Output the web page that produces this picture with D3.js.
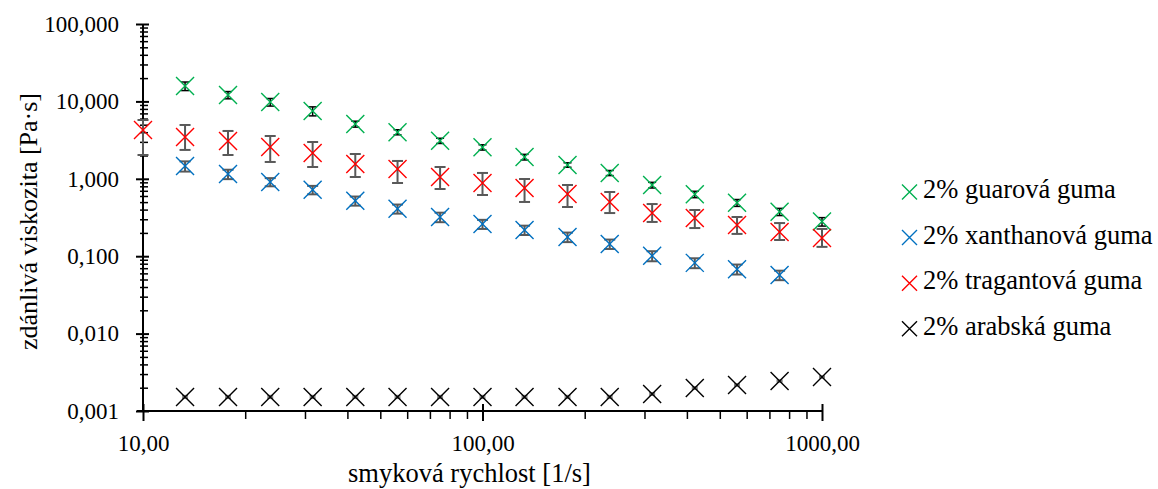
<!DOCTYPE html>
<html>
<head>
<meta charset="utf-8">
<script src="https://cdn.jsdelivr.net/npm/d3@7"></script>
<style>
  html, body { margin: 0; padding: 0; background: #fff; }
  svg { display: block; font-family: "Liberation Serif", "Times New Roman", serif; }
</style>
</head>
<body>
<svg id="chart" width="1158" height="489"></svg>
<script>
// shear rate [1/s]
const shear = [10, 13.3, 17.8, 23.7, 31.6, 42.2, 56.2, 75.0, 100, 133, 178, 237, 316, 422, 562, 750, 1000];

// apparent viscosity [Pa.s]
const guar     = [null, 15.8, 12.1, 9.8, 7.5, 5.1, 4.0, 3.1, 2.55, 1.91, 1.51, 1.19, 0.83, 0.63, 0.49, 0.375, 0.28];
const guarErr  = [null, 2.0, 1.3, 1.1, 1.0, 0.45, 0.3, 0.24, 0.2, 0.16, 0.1, 0.09, 0.07, 0.06, 0.05, 0.04, 0.035];

const xanthan    = [null, 1.46, 1.15, 0.91, 0.72, 0.52, 0.41, 0.32, 0.26, 0.218, 0.177, 0.144, 0.101, 0.082, 0.068, 0.057, null];
const xanthanErr = [null, 0.22, 0.16, 0.11, 0.09, 0.07, 0.055, 0.045, 0.035, 0.03, 0.025, 0.02, 0.015, 0.012, 0.01, 0.008, null];

const trag      = [4.27, 3.47, 3.08, 2.58, 2.15, 1.55, 1.34, 1.055, 0.882, 0.761, 0.636, 0.502, 0.361, 0.312, 0.253, 0.205, 0.172];
const tragPlus  = [1.48, 1.49, 1.07, 0.99, 0.84, 0.54, 0.36, 0.365, 0.308, 0.233, 0.196, 0.173, 0.111, 0.083, 0.068, 0.063, 0.053];
const tragMinus = [2.24, 1.11, 1.05, 0.93, 0.73, 0.495, 0.458, 0.317, 0.264, 0.259, 0.204, 0.141, 0.084, 0.081, 0.059, 0.043, 0.04];

const arab    = [null, 0.00152, 0.00152, 0.00152, 0.00152, 0.00152, 0.00152, 0.00152, 0.00152, 0.00152, 0.00152, 0.00152, 0.00166, 0.00198, 0.00217, 0.00244, 0.00275];
const arabErr = [null, 0.00005, 0.00005, 0.00005, 0.00005, 0.00005, 0.00005, 0.00005, 0.00005, 0.00005, 0.00005, 0.00005, 0.00005, 0.00005, 0.00005, 0.00005, 0.00005];

const seriesNames = ["2% guarová guma", "2% xanthanová guma", "2% tragantová guma", "2% arabská guma"];
const xTicks = [10, 100, 1000];
const yTicks = [0.001, 0.01, 0.1, 1, 10, 100];
const xTitle = "smyková rychlost [1/s]";
const yTitle = "zdánlivá viskozita [Pa·s]";

const series = [
  { name: seriesNames[0], values: guar, plus: guarErr, minus: guarErr, color: "#00b050", errColor: "#000000", errWidth: 1.5, cap: 4 },
  { name: seriesNames[1], values: xanthan, plus: xanthanErr, minus: xanthanErr, color: "#0070c0", errColor: "#595959", errWidth: 2, cap: 5.5 },
  { name: seriesNames[2], values: trag, plus: tragPlus, minus: tragMinus, color: "#ff0000", errColor: "#595959", errWidth: 2, cap: 5.5 },
  { name: seriesNames[3], values: arab, plus: arabErr, minus: arabErr, color: "#000000", errColor: "#808080", errWidth: 2, cap: 3 }
];

const FONT = "Liberation Serif, Times New Roman, serif";
const cz = d3.formatLocale({ decimal: ",", thousands: "\u00a0", grouping: [3], currency: ["", " Kč"] });

const svg = d3.select("#chart");

const x = d3.scaleLog().domain([10, 1000]).range([143, 822]);
const y = d3.scaleLog().domain([0.001, 100]).range([411, 24]);

// minor ticks 2..9 per decade
const minorOf = (scale) => {
  const [a, b] = scale.domain();
  const out = [];
  for (let p = Math.log10(a); p < Math.log10(b); p++) {
    for (let m = 2; m <= 9; m++) out.push(m * Math.pow(10, p));
  }
  return out;
};

// y axis
const yMinor = svg.append("g").attr("transform", `translate(${x(10)},0)`)
  .call(d3.axisLeft(y).tickValues(minorOf(y)).tickSize(3).tickFormat(""));
yMinor.selectAll(".tick line").attr("x2", -3).attr("x1", 5).attr("stroke", "#000").attr("stroke-width", 1.5);
yMinor.select(".domain").remove();

const yAxis = svg.append("g").attr("transform", `translate(${x(10)},0)`)
  .call(d3.axisLeft(y).tickValues(yTicks).tickSize(7).tickPadding(17).tickFormat(cz.format(".3f")));
yAxis.selectAll(".tick line").attr("x1", 6).attr("stroke", "#000").attr("stroke-width", 2);
yAxis.select(".domain").attr("d", `M0,${y(100)}V${y(0.001)}`).attr("stroke", "#000").attr("stroke-width", 2);
yAxis.selectAll(".tick text").attr("font-size", 23).attr("fill", "#000").attr("font-family", FONT);

// x axis
const xMinor = svg.append("g").attr("transform", `translate(0,${y(0.001)})`)
  .call(d3.axisBottom(x).tickValues(minorOf(x)).tickSize(8).tickFormat(""));
xMinor.selectAll(".tick line").attr("stroke", "#000").attr("stroke-width", 1.5);
xMinor.select(".domain").remove();

const xAxis = svg.append("g").attr("transform", `translate(0,${y(0.001)})`)
  .call(d3.axisBottom(x).tickValues(xTicks).tickSize(10).tickPadding(14).tickFormat(cz.format(".2f")));
xAxis.selectAll(".tick line").attr("y1", -7).attr("stroke", "#000").attr("stroke-width", 2);
xAxis.select(".domain").attr("d", `M${x(10) - 6},0H${x(1000)}`).attr("stroke", "#000").attr("stroke-width", 2);
xAxis.selectAll(".tick text").attr("font-size", 23).attr("fill", "#000").attr("font-family", FONT);

// axis titles
svg.append("text")
  .attr("x", 348).attr("y", 482)
  .attr("font-size", 26.5)
  .attr("font-family", FONT)
  .text(xTitle);

svg.append("text")
  .attr("transform", "translate(37,350) rotate(-90)")
  .attr("font-size", 26)
  .attr("font-family", FONT)
  .text(yTitle);

const cross = (r) => `M${-r},${-r}L${r},${r}M${-r},${r}L${r},${-r}`;

// series: error bars first, markers on top
series.forEach(s => {
  const pts = shear.map((sx, i) => ({ x: sx, v: s.values[i], p: s.plus[i], m: s.minus[i] }))
    .filter(d => d.v != null);
  const g = svg.append("g");

  const eb = g.selectAll(".err").data(pts).join("g")
    .attr("stroke", s.errColor).attr("stroke-width", s.errWidth);
  eb.append("line")
    .attr("x1", d => x(d.x)).attr("x2", d => x(d.x))
    .attr("y1", d => y(d.v + d.p)).attr("y2", d => y(d.v - d.m));
  eb.append("line")
    .attr("x1", d => x(d.x) - s.cap).attr("x2", d => x(d.x) + s.cap)
    .attr("y1", d => y(d.v + d.p)).attr("y2", d => y(d.v + d.p));
  eb.append("line")
    .attr("x1", d => x(d.x) - s.cap).attr("x2", d => x(d.x) + s.cap)
    .attr("y1", d => y(d.v - d.m)).attr("y2", d => y(d.v - d.m));

  g.selectAll(".mk").data(pts).join("path")
    .attr("transform", d => `translate(${x(d.x)},${y(d.v)})`)
    .attr("d", cross(9))
    .attr("fill", "none")
    .attr("stroke", s.color)
    .attr("stroke-width", 1.4);
});

// legend
const legend = svg.append("g").attr("transform", "translate(909.5,198)");
const li = legend.selectAll("g").data(series).join("g")
  .attr("transform", (d, i) => `translate(0,${i * 45.6})`);
li.append("path")
  .attr("d", cross(7.5))
  .attr("transform", "translate(0,-6)")
  .attr("fill", "none")
  .attr("stroke", d => d.color)
  .attr("stroke-width", 1.4);
li.append("text")
  .attr("x", 13.5).attr("y", 0)
  .attr("font-size", 26.5)
  .attr("font-family", FONT)
  .text(d => d.name);
</script>
</body>
</html>
